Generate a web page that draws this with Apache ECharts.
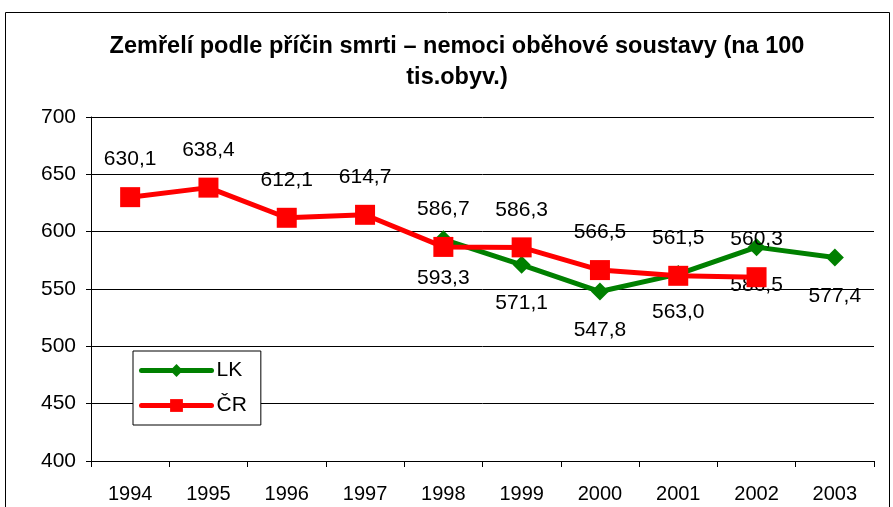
<!DOCTYPE html>
<html>
<head>
<meta charset="utf-8">
<script src="https://cdn.jsdelivr.net/npm/echarts@6/dist/echarts.min.js"></script>
<style>
  html, body { margin: 0; padding: 0; background: #fff; }
  #chart { width: 893px; height: 507px; }
</style>
</head>
<body>
<div id="chart"></div>
<script>
var years = ['1994', '1995', '1996', '1997', '1998', '1999', '2000', '2001', '2002', '2003']
// LK starts in 1998
var lkValues = [null, null, null, null, 593.3, 571.1, 547.8, 563.0, 586.5, 577.4]
var crValues = [630.1, 638.4, 612.1, 614.7, 586.7, 586.3, 566.5, 561.5, 560.3, null]
var yTicks = [400, 450, 500, 550, 600, 650, 700]

var fontFamily = '"Liberation Sans", Arial, sans-serif'

function fmt (p) {
  return p.value == null ? '' : Number(p.value).toFixed(1).replace('.', ',')
}

var chart = echarts.init(document.getElementById('chart'))
chart.setOption({
  animation: false,
  textStyle: { fontFamily: fontFamily },
  title: {
    text: 'Zemřelí podle příčin smrti – nemoci oběhové soustavy (na 100\ntis.obyv.)',
    left: 452,
    top: 26,
    textAlign: 'center',
    textStyle: {
      fontFamily: fontFamily,
      fontSize: 23.5,
      fontWeight: 'bold',
      color: '#000',
      lineHeight: 31
    }
  },
  graphic: [{
    type: 'rect',
    shape: { x: 5.5, y: 12.5, width: 884, height: 500 },
    style: { fill: 'none', stroke: '#000', lineWidth: 1 },
    silent: true,
    z: -1
  }],
  legend: {
    left: 133,
    top: 351,
    orient: 'vertical',
    itemWidth: 70,
    itemHeight: 16,
    itemGap: 14,
    padding: [9, 14, 9, 6],
    borderColor: '#000',
    borderWidth: 1,
    backgroundColor: '#fff',
    lineStyle: { width: 5, cap: 'round' },
    textStyle: { fontSize: 21, color: '#000', fontFamily: fontFamily },
    data: ['LK', 'ČR']
  },
  grid: {
    left: 91,
    right: 19,
    top: 117,
    bottom: 46
  },
  xAxis: {
    type: 'category',
    data: years,
    boundaryGap: true,
    axisLine: { lineStyle: { color: '#000', width: 1 } },
    axisTick: { show: true, length: 6, lineStyle: { color: '#000' } },
    axisLabel: { fontSize: 20, color: '#000', margin: 23, fontFamily: fontFamily }
  },
  yAxis: {
    type: 'value',
    min: yTicks[0],
    max: yTicks[yTicks.length - 1],
    interval: 50,
    axisLine: { show: true, lineStyle: { color: '#000', width: 1 } },
    axisTick: { show: true, length: 5, lineStyle: { color: '#000' } },
    axisLabel: { fontSize: 21, color: '#000', margin: 15, fontFamily: fontFamily },
    splitLine: { show: true, lineStyle: { color: '#000', width: 1 } }
  },
  series: [
    {
      name: 'LK',
      type: 'line',
      data: lkValues,
      symbol: 'diamond',
      symbolSize: 18,
      connectNulls: false,
      itemStyle: { color: '#008000' },
      lineStyle: { color: '#008000', width: 5 },
      label: {
        show: true,
        position: 'bottom',
        distance: 19,
        fontSize: 21,
        color: '#000',
        fontFamily: fontFamily,
        formatter: fmt
      },
      z: 2
    },
    {
      name: 'ČR',
      type: 'line',
      data: crValues,
      symbol: 'rect',
      symbolSize: 20,
      itemStyle: { color: '#ff0000' },
      lineStyle: { color: '#ff0000', width: 5 },
      label: {
        show: true,
        position: 'top',
        distance: 17,
        fontSize: 21,
        color: '#000',
        fontFamily: fontFamily,
        formatter: fmt
      },
      z: 3
    }
  ]
})
</script>
</body>
</html>
